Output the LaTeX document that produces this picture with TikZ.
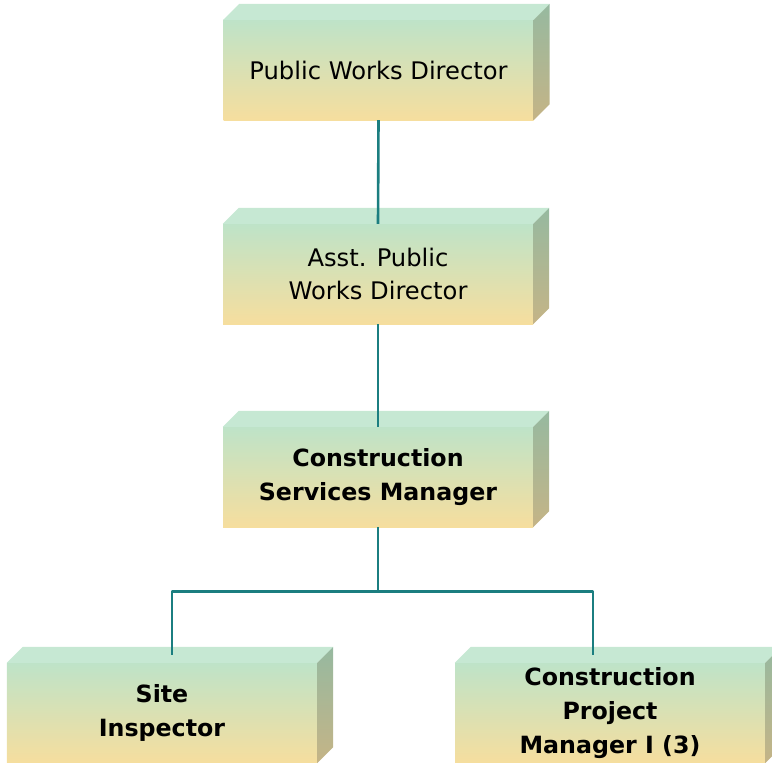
\documentclass[tikz,border=0pt]{standalone}
\usepackage{fontspec}
\setmainfont{DejaVu Sans}
\usetikzlibrary{calc}

\definecolor{frontTop}{HTML}{BEE3C8}
\definecolor{frontBot}{HTML}{F6DE9E}
\definecolor{topFace}{HTML}{C6E8D3}
\definecolor{sideTop}{HTML}{96B9A0}
\definecolor{sideBot}{HTML}{C5B486}
\definecolor{linkTeal}{HTML}{1B7E80}

\tikzset{
  post/.style={minimum width=310bp, minimum height=100bp, inner sep=0pt, align=center,
    top color=frontTop, bottom color=frontBot, font=\fontsize{24.3}{34}\selectfont},
  boss/.style={post, font=\fontsize{23.8}{34}\selectfont\bfseries},
  link/.style={draw=linkTeal, line width=2.6bp},
}

\begin{document}
\begin{tikzpicture}[x=1bp, y=-1bp, line join=round]
  \useasboundingbox (0,0) rectangle (772,763);
  % boxes, front faces
  \node[post] (pwd)  at (378.5,70) {Public Works Director};
  \node[post] (apwd) at (378,274) {Asst. Public\\Works Director};
  \node[boss] (csm)  at (378,477) {Construction\\Services Manager};
  \node[boss] (si)   at (162,713) {Site\\Inspector};
  \node[boss] (cpm)  at (610,713) {Construction\\Project\\Manager I (3)};
  % top and side faces
  \foreach \n in {pwd,apwd,csm,si,cpm}{
    \fill[topFace] (\n.north west) -- ++(16,-16) -- ($(\n.north east)+(16,-16)$) -- (\n.north east) -- cycle;
    \shade[top color=sideTop, bottom color=sideBot] (\n.north east) -- ++(16,-16)
      -- ($(\n.south east)+(16,-16)$) -- (\n.south east) -- cycle;
  }
  % connectors
  \coordinate (siTop)  at ($(si.north)+(10,-8)$);
  \coordinate (cpmTop) at ($(cpm.north)+(-17,-8)$);
  \draw[link] (pwd.south) -- (apwd.north);
  \draw[link] (apwd.south) -- (csm.north);
  \draw[link] (csm.south) -- ++(0,64) coordinate (bus);
  \draw[link] (siTop) |- (bus) -| (cpmTop);
\end{tikzpicture}
\end{document}
